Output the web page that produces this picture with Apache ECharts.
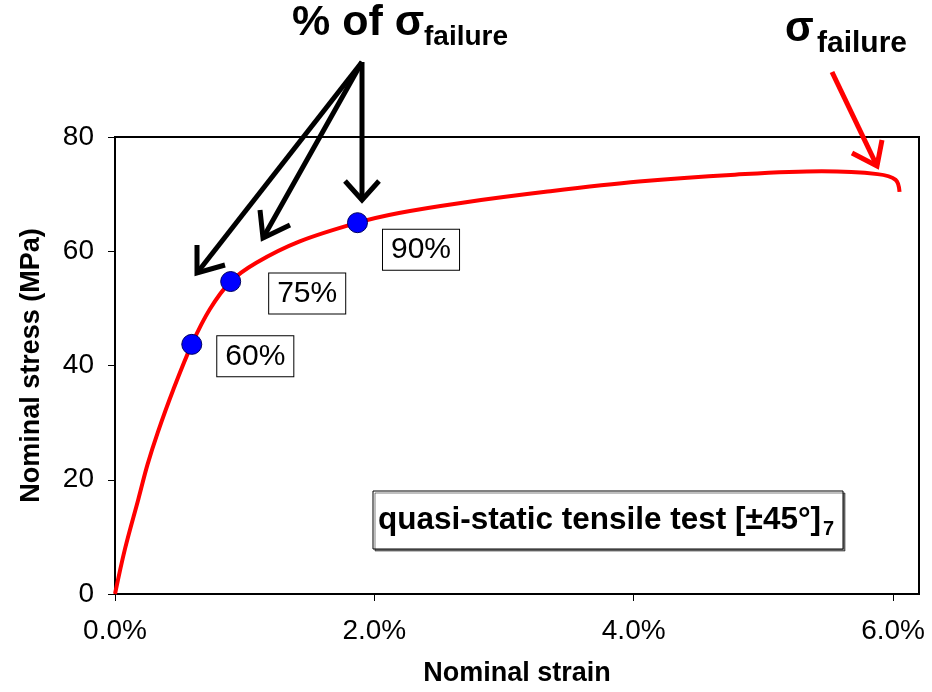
<!DOCTYPE html>
<html>
<head>
<meta charset="utf-8">
<script src="https://cdn.jsdelivr.net/npm/echarts@6/dist/echarts.min.js"></script>
<style>
  html, body { margin: 0; padding: 0; background: #fff; }
  #chart { width: 932px; height: 692px; }
</style>
</head>
<body>
<div id="chart"></div>
<script>
// stress-strain curve, strain in %
var strain = [0, 0.077, 0.18, 0.25, 0.33, 0.45, 0.592, 0.73, 0.892, 1.09, 1.42, 1.87, 2.19, 2.68, 3.32, 4.04, 4.78, 5.45, 5.88, 6.02, 6.05];
var stress = [0, 7.9, 16.6, 22.6, 28.3, 35.8, 43.7, 49.8, 54.7, 58.0, 61.7, 65.0, 66.7, 68.5, 70.4, 72.2, 73.4, 74.0, 73.5, 72.5, 70.4];

// marked load levels
var markStrain = [0.592, 0.892, 1.87];
var markStress = [43.7, 54.7, 65.0];
var markNames = ['60%', '75%', '90%'];

var xTicks = [0, 2, 4, 6];

var FONT = '"Liberation Sans", Arial, sans-serif';

var curve = strain.map(function (s, i) { return [s, stress[i]]; });
var labelOffsets = [[10, 12], [23, 12], [10, 27]];
var marks = markStrain.map(function (s, i) {
    return {
        name: markNames[i],
        value: [s, markStress[i]],
        label: { offset: labelOffsets[i] }
    };
});

var myChart = echarts.init(document.getElementById('chart'));

var option = {
    backgroundColor: '#fff',
    animation: false,
    grid: {
        left: 115,
        right: 13,
        top: 137,
        bottom: 97,
        show: true,
        borderColor: '#000',
        borderWidth: 2
    },
    xAxis: {
        type: 'value',
        min: 0,
        max: 6.2,
        interval: 2,
        name: 'Nominal strain',
        nameLocation: 'middle',
        nameGap: 66,
        nameTextStyle: { fontFamily: FONT, fontSize: 27, fontWeight: 'bold', color: '#000' },
        axisLine: { show: true, lineStyle: { color: '#000', width: 2 } },
        axisTick: { show: true, length: 7, customValues: xTicks, lineStyle: { color: '#000', width: 1 } },
        axisLabel: {
            customValues: xTicks,
            margin: 23,
            fontFamily: FONT,
            fontSize: 28,
            color: '#000',
            formatter: function (v) { return v.toFixed(1) + '%'; }
        },
        splitLine: { show: false }
    },
    yAxis: {
        type: 'value',
        min: 0,
        max: 80,
        interval: 20,
        name: 'Nominal stress (MPa)',
        nameLocation: 'middle',
        nameGap: 70,
        nameTextStyle: { fontFamily: FONT, fontSize: 27, fontWeight: 'bold', color: '#000' },
        axisLine: { show: true, lineStyle: { color: '#000', width: 2 } },
        axisTick: { show: true, length: 7, lineStyle: { color: '#000', width: 1 } },
        axisLabel: { margin: 21, fontFamily: FONT, fontSize: 28, color: '#000' },
        splitLine: { show: false }
    },
    series: [
        {
            type: 'line',
            data: curve,
            showSymbol: false,
            smooth: 0.35,
            lineStyle: { color: '#ff0000', width: 4 },
            z: 2
        },
        {
            type: 'scatter',
            data: marks,
            symbolSize: 20,
            itemStyle: { color: '#0000ff', borderColor: '#000060', borderWidth: 1, opacity: 1 },
            label: {
                show: true,
                position: 'right',
                distance: 5,
                formatter: '{b}',
                fontFamily: FONT,
                fontSize: 30,
                lineHeight: 31,
                color: '#000',
                backgroundColor: '#fff',
                borderColor: '#000',
                borderWidth: 1,
                padding: [5, 8, 4, 8]
            },
            z: 3
        }
    ],
    graphic: [
        // black arrows to marked points
        { type: 'line', shape: { x1: 362, y1: 62, x2: 197, y2: 273 }, style: { stroke: '#000', lineWidth: 5 } },
        { type: 'polyline', shape: { points: [[197, 245], [197, 273], [225, 265]] }, style: { stroke: '#000', lineWidth: 5, fill: null } },
        { type: 'line', shape: { x1: 362, y1: 62, x2: 263, y2: 238 }, style: { stroke: '#000', lineWidth: 5 } },
        { type: 'polyline', shape: { points: [[260, 210], [263, 238], [290, 225]] }, style: { stroke: '#000', lineWidth: 5, fill: null } },
        { type: 'line', shape: { x1: 362, y1: 62, x2: 362, y2: 200 }, style: { stroke: '#000', lineWidth: 5 } },
        { type: 'polyline', shape: { points: [[345, 181], [362, 200], [379, 181]] }, style: { stroke: '#000', lineWidth: 5, fill: null } },
        // red arrow to failure
        { type: 'line', shape: { x1: 832, y1: 72, x2: 877, y2: 166 }, style: { stroke: '#ff0000', lineWidth: 5 } },
        { type: 'polyline', shape: { points: [[852, 153], [877, 166], [882, 140]] }, style: { stroke: '#ff0000', lineWidth: 5, fill: null } },
        // headings
        { type: 'text', x: 292, y: 2, style: { text: '% of σ', font: 'bold 43px ' + FONT, fill: '#000', verticalAlign: 'top' } },
        { type: 'text', x: 424, y: 23, style: { text: 'failure', font: 'bold 28px ' + FONT, fill: '#000', verticalAlign: 'top' } },
        { type: 'text', x: 785, y: 8, style: { text: 'σ', font: 'bold 42px ' + FONT, fill: '#000', verticalAlign: 'top' } },
        { type: 'text', x: 817, y: 29, style: { text: 'failure', font: 'bold 30px ' + FONT, fill: '#000', verticalAlign: 'top' } },
        // test description box
        {
            type: 'rect',
            shape: { x: 373, y: 491, width: 470, height: 58 },
            style: { fill: '#fff', stroke: '#000', lineWidth: 1, shadowColor: 'rgba(0,0,0,0.5)', shadowOffsetX: 2, shadowOffsetY: 2 },
            z: 10
        },
        { type: 'text', x: 378, y: 504, z: 11, style: { text: 'quasi-static tensile test [±45°]', font: 'bold 31.5px ' + FONT, fill: '#000', verticalAlign: 'top' } },
        { type: 'text', x: 823, y: 519, z: 11, style: { text: '7', font: 'bold 20px ' + FONT, fill: '#000', verticalAlign: 'top' } }
    ]
};

myChart.setOption(option);
</script>
</body>
</html>
